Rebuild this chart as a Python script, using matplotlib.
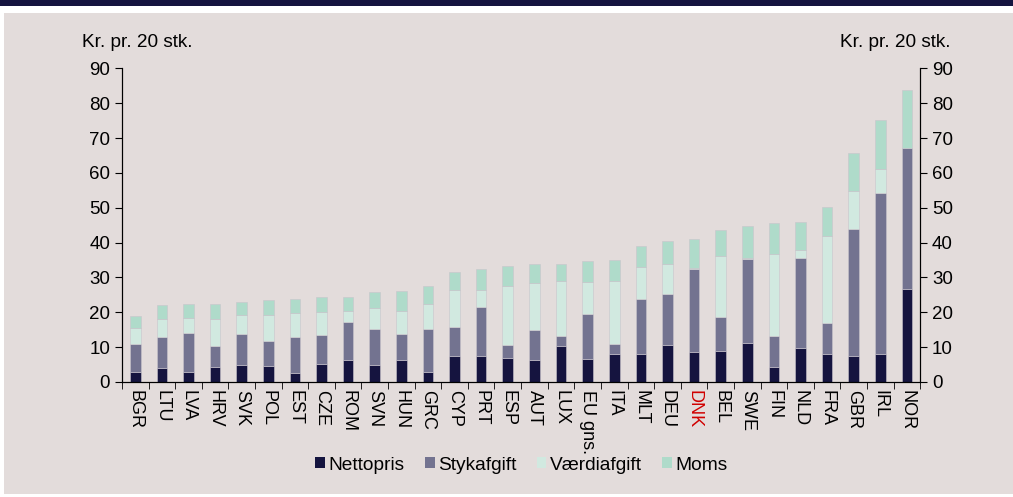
import numpy as np
import matplotlib
matplotlib.use("Agg")
import matplotlib.pyplot as plt
from matplotlib.patches import Rectangle

plt.rcParams['font.family'] = ['Liberation Sans', 'DejaVu Sans']

lande = ['BGR', 'LTU', 'LVA', 'HRV', 'SVK', 'POL', 'EST', 'CZE', 'ROM', 'SVN',
         'HUN', 'GRC', 'CYP', 'PRT', 'ESP', 'AUT', 'LUX', 'EU gns.', 'ITA', 'MLT',
         'DEU', 'DNK', 'BEL', 'SWE', 'FIN', 'NLD', 'FRA', 'GBR', 'IRL', 'NOR']
nettopris = [2.9, 4.0, 2.9, 4.3, 4.8, 4.6, 2.6, 5.3, 6.2, 4.9,
             6.3, 2.9, 7.6, 7.4, 6.9, 6.4, 10.2, 6.6, 8.0, 8.0,
             10.6, 8.5, 9.0, 11.3, 4.4, 9.8, 8.0, 7.5, 8.1, 26.7]
stykafgift = [8.1, 8.8, 11.1, 6.1, 9.1, 7.1, 10.2, 8.2, 10.9, 10.4,
              7.6, 12.2, 8.2, 14.1, 3.6, 8.6, 2.9, 12.9, 2.9, 15.8,
              14.6, 23.9, 9.7, 24.0, 8.7, 25.8, 8.9, 36.4, 46.0, 40.4]
vaerdiafgift = [4.6, 5.4, 4.5, 7.7, 5.4, 7.4, 7.1, 6.7, 3.4, 5.8,
                6.6, 7.3, 10.7, 4.9, 17.1, 13.3, 15.9, 9.2, 18.0, 9.1,
                8.7, 0.3, 17.5, 0.2, 23.7, 2.3, 25.1, 11.0, 7.0, 0.0]
moms = [3.3, 3.9, 3.9, 4.4, 3.7, 4.4, 4.0, 4.3, 4.0, 4.8,
        5.5, 5.2, 5.1, 6.1, 5.8, 5.6, 4.9, 6.1, 6.2, 6.0,
        6.6, 8.3, 7.5, 9.2, 8.8, 7.9, 8.3, 10.9, 14.0, 16.6]

serier = [('Nettopris', nettopris, '#15143F'),
          ('Stykafgift', stykafgift, '#737390'),
          ('Værdiafgift', vaerdiafgift, '#D1E9E0'),
          ('Moms', moms, '#AFDBCA')]

bg = '#E3DCDB'
fs = 13.5
fig = plt.figure(figsize=(10.13, 4.97), dpi=100)
fig.patch.set_facecolor('white')
# header bar and panel
fig.add_artist(Rectangle((0, 1 - 6 / 497), 1, 6 / 497, transform=fig.transFigure,
                         facecolor='#15143F', edgecolor='none'))
fig.add_artist(Rectangle((4 / 1013, 3 / 497), 1, 1 - 16 / 497, transform=fig.transFigure,
                         facecolor=bg, edgecolor='none', zorder=0))

ax = fig.add_axes([0.1204, 0.2314, 0.788, 0.631])
ax.set_facecolor(bg)
ax.patch.set_alpha(0)

x = np.arange(len(lande))
bund = np.zeros(len(lande))
for navn, vals, farve in serier:
    ax.bar(x, vals, 0.4, bottom=bund, color=farve, label=navn,
           edgecolor='#C9C4CC', linewidth=0.4)
    bund += np.array(vals)

ax.set_xlim(-0.5, len(lande) - 0.5)
ax.set_ylim(0, 90)
ax.set_yticks(range(0, 91, 10))
ax.tick_params(axis='y', labelsize=fs, length=5, direction='out')
ax.set_xticks(x)
ax.set_xticklabels(lande, rotation=270, fontsize=13)
ax.tick_params(axis='x', which='major', length=0, pad=6)
ax.set_xticks(np.arange(-0.5, len(lande), 1), minor=True)
ax.tick_params(axis='x', which='minor', length=5, direction='out')
for lbl in ax.get_xticklabels():
    if lbl.get_text() == 'DNK':
        lbl.set_color('#D00000')
ax.spines['top'].set_visible(False)

ax2 = ax.twinx()
ax2.set_ylim(0, 90)
ax2.set_yticks(range(0, 91, 10))
ax2.tick_params(axis='y', labelsize=fs, length=5, direction='out')
ax2.spines['top'].set_visible(False)

fig.text(0.081, 0.905, 'Kr. pr. 20 stk.', fontsize=13.7)
fig.text(0.938, 0.905, 'Kr. pr. 20 stk.', fontsize=13.7, ha='right')

leg = ax.legend(loc='center', bbox_to_anchor=(0.515, 0.064), bbox_transform=fig.transFigure,
                ncol=4, frameon=False, fontsize=13.8, handlelength=0.5, handleheight=0.5,
                handletextpad=0.2, columnspacing=1.05)
for h in leg.legend_handles:
    h.set_linewidth(0)

fig.savefig('out.png', dpi=100, facecolor=fig.get_facecolor())
